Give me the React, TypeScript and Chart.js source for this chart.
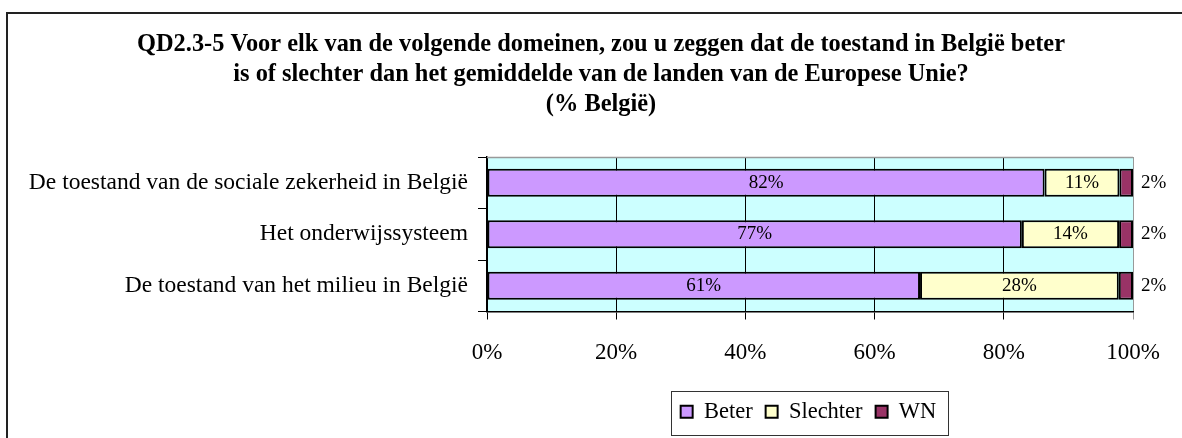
import React, { useEffect, useRef } from "react";
import { Chart, registerables } from "chart.js";

Chart.register(...registerables);

const titleLines = [
  "QD2.3-5 Voor elk van de volgende domeinen, zou u zeggen dat de toestand in België beter",
  "is of slechter dan het gemiddelde van de landen van de Europese Unie?",
  "(% België)",
];
const categories = [
  "De toestand van de sociale zekerheid in België",
  "Het onderwijssysteem",
  "De toestand van het milieu in België",
];
const seriesNames = ["Beter", "Slechter", "WN"];
const beter = [82, 77, 61];
const slechter = [11, 14, 28];
const wn = [2, 2, 2];
const xTicks = [0, 20, 40, 60, 80, 100];

const colors = ["#CC99FF", "#FFFFCC", "#993366"];
const FONT = "'Liberation Serif', 'Times New Roman', serif";
const LEGEND_CENTER = 808.5;
const TITLE_CENTER = 601;

export default function App() {
  const ref = useRef<HTMLCanvasElement | null>(null);

  useEffect(() => {
    if (!ref.current) return;
    const raw = [beter, slechter, wn];
    const totals = categories.map((_, i) => beter[i] + slechter[i] + wn[i]);
    const norm = raw.map((arr) => arr.map((v, i) => (v / totals[i]) * 100));

    const framePlugin = {
      id: "frame",
      afterUpdate(chart: any) {
        const tb = chart.titleBlock;
        if (tb) {
          const d = TITLE_CENTER - (tb.left + tb.right) / 2;
          tb.left += d;
          tb.right += d;
        }
        const lg = chart.legend;
        if (!lg || !lg.legendHitBoxes || !lg.legendHitBoxes.length) return;
        const boxes = lg.legendHitBoxes;
        const minX = Math.min(...boxes.map((b: any) => b.left));
        const maxX = Math.max(...boxes.map((b: any) => b.left + b.width));
        const dx = LEGEND_CENTER - (minX + maxX) / 2;
        lg.left += dx;
        lg.right += dx;
        boxes.forEach((b: any) => (b.left += dx));
      },
      beforeDraw(chart: any) {
        const { ctx, chartArea } = chart;
        ctx.save();
        ctx.fillStyle = "#ffffff";
        ctx.fillRect(0, 0, chart.width, chart.height);
        ctx.strokeStyle = "#222";
        ctx.lineWidth = 2;
        ctx.strokeRect(7, 13, 1190, 500);
        ctx.fillStyle = "#CCFFFF";
        ctx.fillRect(chartArea.left, chartArea.top, chartArea.right - chartArea.left, chartArea.bottom - chartArea.top);
        ctx.restore();
      },
      beforeDatasetsDraw(chart: any) {
        const { ctx, chartArea } = chart;
        ctx.save();
        ctx.strokeStyle = "#999";
        ctx.lineWidth = 1.5;
        ctx.beginPath();
        ctx.moveTo(chartArea.left, chartArea.top + 0.5);
        ctx.lineTo(chartArea.right, chartArea.top + 0.5);
        ctx.stroke();
        ctx.restore();
      },
      afterDatasetsDraw(chart: any) {
        const { ctx, chartArea } = chart;
        ctx.save();
        ctx.font = `19px ${FONT}`;
        ctx.fillStyle = "#000";
        ctx.textBaseline = "middle";
        raw.forEach((arr, di) => {
          const meta = chart.getDatasetMeta(di);
          meta.data.forEach((el: any, i: number) => {
            const label = arr[i] + "%";
            if (di < 2) {
              ctx.textAlign = "center";
              ctx.fillText(label, (el.x + el.base) / 2, el.y);
            } else {
              ctx.textAlign = "left";
              ctx.fillText(label, chartArea.right + 8, el.y);
            }
          });
        });
        ctx.restore();
      },
      afterDraw(chart: any) {
        const lg = chart.legend;
        if (!lg || !lg.legendHitBoxes || !lg.legendHitBoxes.length) return;
        const boxes = lg.legendHitBoxes;
        const minX = Math.min(...boxes.map((b: any) => b.left));
        const maxX = Math.max(...boxes.map((b: any) => b.left + b.width));
        const { ctx } = chart;
        ctx.save();
        ctx.strokeStyle = "#333";
        ctx.lineWidth = 1;
        ctx.strokeRect(Math.round(minX - 10) + 0.5, 391.5, Math.round(maxX - minX + 21), 44);
        ctx.restore();
      },
    };

    const chart = new Chart(ref.current, {
      type: "bar",
      data: {
        labels: categories,
        datasets: seriesNames.map((name, i) => ({
          label: name,
          data: norm[i],
          backgroundColor: colors[i],
          borderColor: "#000",
          borderWidth: 2,
          borderSkipped: false,
          categoryPercentage: 1,
          barPercentage: 0.54,
        })),
      },
      options: {
        indexAxis: "y",
        responsive: false,
        animation: false,
        devicePixelRatio: 1,
        layout: { padding: { left: 0, right: 49, top: 0, bottom: 5 } },
        plugins: {
          title: {
            display: true,
            text: titleLines,
            color: "#000",
            font: { family: FONT, size: 24.4, weight: "bold", lineHeight: 30 / 24.4 },
            padding: { top: 30, bottom: 37 },
          },
          legend: {
            display: true,
            position: "bottom",
            labels: {
              color: "#000",
              font: { family: FONT, size: 22.5 },
              boxWidth: 12,
              boxHeight: 12,
              padding: 13,
            },
          },
          tooltip: { enabled: false },
        },
        scales: {
          x: {
            stacked: true,
            min: 0,
            max: 100,
            afterBuildTicks(scale: any) {
              scale.ticks = xTicks.map((v) => ({ value: v }));
            },
            afterFit(scale: any) {
              scale.height = 76;
            },
            grid: {
              color: (c: any) => (c.tick && c.tick.value === 100 ? "#999" : "#000"),
              lineWidth: 1,
              tickLength: 8,
              drawOnChartArea: true,
            },
            border: { color: "#000", width: 1.5 },
            ticks: {
              color: "#000",
              font: { family: FONT, size: 23 },
              padding: 20,
              callback: (v: any) => v + "%",
              maxRotation: 0,
            },
          },
          y: {
            stacked: true,
            afterFit(scale: any) {
              scale.width = 487;
            },
            grid: {
              offset: true,
              drawOnChartArea: false,
              color: "#000",
              tickLength: 9,
            },
            border: { color: "#000", width: 1.5 },
            ticks: {
              color: "#000",
              font: { family: FONT, size: 23.5 },
              padding: 10,
            },
          },
        },
      },
      plugins: [framePlugin],
    } as any);
    return () => chart.destroy();
  }, []);

  return (
    <div style={{ position: "absolute", left: 0, top: 0, width: 1182, height: 438 }}>
      <canvas ref={ref} width={1182} height={438} style={{ display: "block" }} />
    </div>
  );
}
